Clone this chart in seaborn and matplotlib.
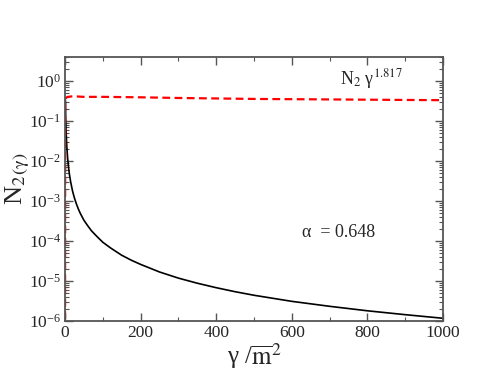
import matplotlib
matplotlib.use('Agg')
import matplotlib.pyplot as plt
import matplotlib.ticker as mticker
import pandas as pd
import seaborn as sns

# values
gamma = [1, 2, 3, 5, 7, 10, 12, 15, 20, 25, 30, 35, 40, 45, 50, 60, 70, 80,
         90, 100, 120, 150, 175, 200, 250, 300, 350, 400, 450, 500, 600,
         700, 800, 900, 1000]
n2 = [0.33, 0.102, 0.0515, 0.0209, 0.0116, 6.1e-3, 4.43e-3, 2.98e-3, 1.76e-3,
      1.18e-3, 8.5e-4, 6.4e-4, 5.0e-4, 4.06e-4, 3.3e-4, 2.41e-4, 1.8e-4,
      1.43e-4, 1.15e-4, 9.3e-5, 6.75e-5, 4.4e-5, 3.32e-5, 2.6e-5, 1.68e-5,
      1.18e-5, 8.8e-6, 6.8e-6, 5.4e-6, 4.4e-6, 3.1e-6, 2.33e-6, 1.80e-6,
      1.44e-6, 1.17e-6]

gamma_comp = [0, 0.5, 1, 2, 3, 5, 7, 10, 15, 20, 30, 50, 100, 200, 300,
              400, 500, 600, 700, 800, 900, 1000]
n2_comp = [1e-8, 0.30, 0.33, 0.36, 0.38, 0.39, 0.40, 0.40, 0.41, 0.41, 0.41,
           0.40, 0.40, 0.39, 0.375, 0.365, 0.355, 0.35, 0.345, 0.34, 0.335, 0.33]

alpha_txt = 'α  = 0.648'
comp_txt = r'N$_2$ γ$^{1.817}$'

sns.set_style("ticks")
plt.rcParams['font.family'] = ['Liberation Serif', 'DejaVu Serif']
plt.rcParams['mathtext.fontset'] = 'stix'

frame_col = '#555555'

df1 = pd.DataFrame({'gamma': gamma, 'n2': n2})
df2 = pd.DataFrame({'gamma': gamma_comp, 'n2': n2_comp})

fig = plt.figure(figsize=(4.91, 3.79), dpi=100)
ax = fig.add_axes([0.1324, 0.153, 0.770, 0.697])

sns.lineplot(data=df1, x='gamma', y='n2', color='black', linewidth=1.2, ax=ax)
sns.lineplot(data=df2, x='gamma', y='n2', color='red', linewidth=1.6,
             dashes=False, ax=ax)
ax.lines[-1].set_dashes((3.5, 2.0))

ax.set_yscale('log')
ax.set_xlim(0, 1000)
ax.set_ylim(1e-6, 4)

ax.xaxis.set_major_locator(mticker.MultipleLocator(200))
ax.xaxis.set_minor_locator(mticker.MultipleLocator(100))
ax.yaxis.set_major_locator(mticker.LogLocator(base=10, numticks=10))
ax.yaxis.set_minor_locator(mticker.LogLocator(base=10, subs=range(2, 10), numticks=10))
ax.yaxis.set_major_formatter(mticker.LogFormatterMathtext())
ax.yaxis.set_minor_formatter(mticker.NullFormatter())

ax.tick_params(which='both', direction='in', top=True, right=True,
               color=frame_col, labelsize=12.5, pad=3)
ax.tick_params(which='major', length=6, width=1.0)
ax.tick_params(which='minor', length=3, width=0.8)
for s in ax.spines.values():
    s.set_color(frame_col)
    s.set_linewidth(1.3)

ax.set_xlabel(r'γ /$\overline{\mathrm{m}}^{2}$', fontsize=18, labelpad=0)
ax.set_ylabel(r'N$_2$$_{(\mathrm{\gamma})}$', fontsize=19)
ax.yaxis.set_label_coords(-0.088, 0.54)

ax.text(627, 1.6e-4, alpha_txt, fontsize=13, ha='left', va='center')
ax.text(727, 1.1, comp_txt, fontsize=13, ha='left', va='center')

fig.savefig('out.png', dpi=100)
plt.close()
